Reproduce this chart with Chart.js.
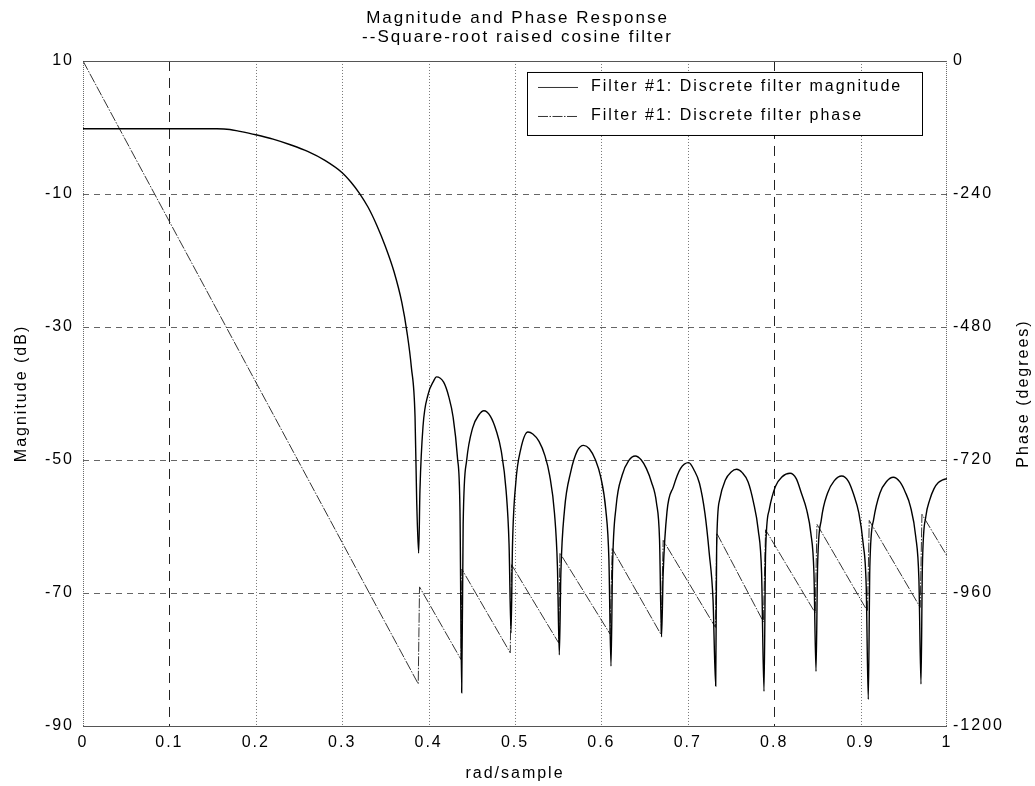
<!DOCTYPE html>
<html><head><meta charset="utf-8">
<script src="https://cdn.jsdelivr.net/npm/chart.js@4.4.0/dist/chart.umd.min.js"></script>
<style>html,body{margin:0;padding:0;background:#fff;}#wrap{width:1035px;height:786px;position:relative;}</style>
</head><body><div id="wrap"><canvas id="c"></canvas></div>
<script>
// ---- text ----
const titleLines = ['Magnitude and Phase Response', '--Square-root raised cosine filter'];
const xAxisLabel = 'rad/sample';
const leftAxisLabel = 'Magnitude (dB)';
const rightAxisLabel = 'Phase (degrees)';
const seriesNames = ['Filter #1: Discrete filter magnitude', 'Filter #1: Discrete filter phase'];

// ---- axis ranges / ticks ----
const xRange = [0, 1], xStep = 0.1;
const magRange = [-90, 10], magStep = 20;
const phaseRange = [-1200, 0], phaseStep = 240;

// ---- magnitude (dB) ----
const magX = [0, 0.05, 0.10, 0.155, 0.17, 0.18, 0.20, 0.22, 0.24, 0.26, 0.28, 0.30, 0.31, 0.32, 0.33, 0.34, 0.35, 0.36, 0.369, 0.375, 0.380, 0.3843, 0.3862, 0.3885,
  0.3900, 0.3935, 0.3995, 0.4059, 0.4090, 0.4174, 0.4234, 0.4283, 0.4333, 0.4363, 0.4383,
  0.4400, 0.4440, 0.4509, 0.4583, 0.4640, 0.4714, 0.4783, 0.4840, 0.4897, 0.4931, 0.4954,
  0.4971, 0.5010, 0.5066, 0.5150, 0.5206, 0.5278, 0.5345, 0.5401, 0.5457, 0.5491, 0.5513,
  0.5531, 0.5573, 0.5645, 0.5722, 0.5794, 0.5860, 0.5932, 0.5991, 0.6051, 0.6087, 0.6111,
  0.6129, 0.6170, 0.6240, 0.6316, 0.6392, 0.6462, 0.6521, 0.6579, 0.6638, 0.6673, 0.6696,
  0.6715, 0.6759, 0.6834, 0.6915, 0.7010, 0.7072, 0.7135, 0.7198, 0.7248, 0.7292, 0.7323,
  0.7334, 0.7368, 0.7435, 0.7502, 0.7565, 0.7630, 0.7698, 0.7759, 0.7815, 0.7854, 0.7882,
  0.7900, 0.7942, 0.8014, 0.8093, 0.8183, 0.8255, 0.8315, 0.8376, 0.8424, 0.8460, 0.8484,
  0.8502, 0.8545, 0.8617, 0.8696, 0.8781, 0.8859, 0.8920, 0.8980, 0.9029, 0.9065, 0.9089,
  0.9107, 0.9150, 0.9223, 0.9303, 0.9378, 0.9455, 0.9516, 0.9577, 0.9638, 0.9675, 0.9699,
  0.9715, 0.9755, 0.9800, 0.9850, 0.9900, 0.9950, 1.0000];
const magY = [-0.2, -0.2, -0.2, -0.2, -0.3, -0.55, -1.1, -1.75, -2.6, -3.6, -4.95, -6.8, -8.2, -9.9, -12.0, -14.7, -17.9, -21.7, -26.3, -30.8, -36, -43.5, -56, -64,
  -54.5, -45, -40.1, -38.1, -37.5, -38.3, -40.5, -43.5, -49.5, -57.5, -85,
  -59.6, -50.1, -45.2, -43.2, -42.6, -43.4, -45.6, -48.6, -54.6, -62.6, -76,
  -62.8, -53.3, -48.4, -45.8, -46.1, -47.2, -49.3, -52.3, -58, -66, -79.3,
  -67, -57.5, -51.8, -48.6, -47.8, -48.3, -50, -52.5, -57.5, -65, -81,
  -66, -57, -52.3, -50.1, -49.4, -50, -51.3, -53.3, -56.5, -62, -76.6,
  -67, -57.8, -54, -51.3, -50.4, -51.5, -53.5, -58, -64, -71, -84,
  -63, -56, -53, -51.8, -51.4, -51.9, -53.3, -56.3, -60.5, -67, -84.8,
  -64, -57.5, -54, -52.5, -52, -52.8, -55, -57.5, -61, -67, -81.8,
  -66, -59, -55, -53.1, -52.4, -53.2, -55.2, -58, -62.5, -69, -86,
  -66, -59, -55, -53.2, -52.6, -53.3, -54.8, -57, -61.5, -68, -83.7,
  -66, -58.5, -56, -54.3, -53.4, -53, -52.8];

// ---- phase (degrees) ----
const phaseX = [0, 0.3880, 0.3895, 0.4375, 0.4385, 0.4945, 0.4960, 0.5505, 0.5520, 0.6100, 0.6125, 0.6690, 0.6715,
  0.7320, 0.7335, 0.7875, 0.7900, 0.8475, 0.8495, 0.9080, 0.9100, 0.9690, 0.9710, 1.0];
const phaseY = [0, -1124, -949, -1080, -917, -1068, -909, -1050, -888, -1034, -880, -1035, -865,
  -1022, -852, -1012, -846, -996, -836, -993, -829, -986, -818, -893];

const FONT = "'Liberation Sans', Arial, Helvetica, sans-serif";
Chart.defaults.font.family = FONT;
Chart.defaults.font.size = 16;
Chart.defaults.color = '#000';

const toPts = (xs, ys) => xs.map((x, i) => ({x: x, y: ys[i]}));

const framePlugin = {
  id: 'frame',
  beforeDraw(chart) {
    chart.ctx.letterSpacing = '2px';
  },
  beforeDatasetsDraw(chart) {
    const {ctx, chartArea: a, scales} = chart;
    ctx.save();
    ctx.lineWidth = 1;
    scales.x.ticks.forEach(t => {
      if (t.value <= xRange[0] || t.value >= xRange[1]) return;
      const px = Math.round(scales.x.getPixelForValue(t.value)) + 0.5;
      const strong = Math.abs(t.value - 0.1) < 1e-6 || Math.abs(t.value - 0.8) < 1e-6;
      ctx.strokeStyle = strong ? '#222' : '#777';
      ctx.setLineDash(strong ? [10, 7] : [1, 2]);
      ctx.beginPath(); ctx.moveTo(px, a.top); ctx.lineTo(px, a.bottom); ctx.stroke();
    });
    scales.y.ticks.forEach(t => {
      if (t.value <= magRange[0] || t.value >= magRange[1]) return;
      const py = Math.round(scales.y.getPixelForValue(t.value)) + 0.5;
      ctx.strokeStyle = '#666';
      ctx.setLineDash([6, 5]);
      ctx.beginPath(); ctx.moveTo(a.left, py); ctx.lineTo(a.right, py); ctx.stroke();
    });
    ctx.setLineDash([]);
    ctx.strokeStyle = '#555';
    ctx.beginPath();
    ctx.moveTo(a.left, Math.round(a.top) + 0.5); ctx.lineTo(a.right, Math.round(a.top) + 0.5);
    ctx.moveTo(a.left, Math.round(a.bottom) + 0.5); ctx.lineTo(a.right, Math.round(a.bottom) + 0.5);
    ctx.stroke();
    ctx.setLineDash([1, 1]);
    ctx.strokeStyle = '#666';
    ctx.beginPath();
    ctx.moveTo(Math.round(a.left) + 0.5, a.top); ctx.lineTo(Math.round(a.left) + 0.5, a.bottom);
    ctx.moveTo(Math.round(a.right) - 0.5, a.top); ctx.lineTo(Math.round(a.right) - 0.5, a.bottom);
    ctx.stroke();
    ctx.restore();
  },
  afterDraw(chart) {
    const {ctx, chartArea: a} = chart;
    ctx.save();
    ctx.letterSpacing = '2px';
    ctx.font = '16px ' + FONT;
    ctx.fillStyle = '#000';
    ctx.textAlign = 'center';
    ctx.textBaseline = 'middle';
    ctx.translate(1024, (a.top + a.bottom) / 2);
    ctx.rotate(-Math.PI / 2);
    ctx.fillText(chart.options.scales.y1.title.text, 0, 0);
    ctx.restore();

    ctx.save();
    ctx.letterSpacing = '2px';
    const L = a.right - 420, R = a.right - 25, T = a.top + 11, B = a.top + 74;
    ctx.fillStyle = '#fff';
    ctx.fillRect(L, T, R - L, B - T);
    ctx.strokeStyle = '#000';
    ctx.lineWidth = 1;
    ctx.strokeRect(L + 0.5, T + 0.5, R - L, B - T);
    ctx.font = '16px ' + FONT;
    ctx.textAlign = 'left';
    ctx.textBaseline = 'middle';
    chart.data.datasets.forEach((ds, i) => {
      const y = T + 15 + i * 29;
      ctx.strokeStyle = '#333';
      ctx.lineWidth = 1;
      ctx.setLineDash(ds.borderDash || []);
      ctx.beginPath(); ctx.moveTo(L + 11, y + 0.5); ctx.lineTo(L + 51, y + 0.5); ctx.stroke();
      ctx.setLineDash([]);
      ctx.fillStyle = '#000';
      ctx.fillText(ds.label, L + 64, y);
    });
    ctx.restore();
  }
};

new Chart(document.getElementById('c'), {
  type: 'line',
  data: {
    datasets: [
      {label: seriesNames[0], data: toPts(magX, magY), yAxisID: 'y', borderColor: '#000', borderWidth: 1.4,
       pointRadius: 0, cubicInterpolationMode: 'monotone', fill: false},
      {label: seriesNames[1], data: toPts(phaseX, phaseY), yAxisID: 'y1', borderColor: '#333', borderWidth: 1,
       pointRadius: 0, tension: 0, borderDash: [10, 1.5, 1.5, 1.5], fill: false}
    ]
  },
  options: {
    responsive: true,
    maintainAspectRatio: false,
    animation: false,
    events: [],
    layout: {padding: 0},
    plugins: {
      legend: {display: false},
      tooltip: {enabled: false},
      title: {
        display: true, text: titleLines, color: '#000',
        font: {size: 17, weight: 'normal', lineHeight: 1.12},
        padding: {top: 8.5, bottom: 14.4}
      }
    },
    scales: {
      x: {
        type: 'linear', position: 'bottom', min: xRange[0], max: xRange[1],
        ticks: {stepSize: xStep, padding: 7, font: {size: 16}, color: '#000',
                callback: v => String(Math.round(v * 10) / 10)},
        grid: {display: false, drawTicks: false}, border: {display: false},
        title: {display: true, text: xAxisLabel, font: {size: 16}, padding: {top: 0, bottom: 3}, color: '#000'},
        afterFit: s => { s.height = 60; }
      },
      y: {
        type: 'linear', position: 'left', min: magRange[0], max: magRange[1],
        ticks: {stepSize: magStep, padding: 9, font: {size: 16}, color: '#000', callback: v => String(v)},
        grid: {display: false, drawTicks: false}, border: {display: false},
        title: {display: true, text: leftAxisLabel, font: {size: 16}, padding: {top: 12, bottom: 0}, color: '#000'},
        afterFit: s => { s.width = 83; }
      },
      y1: {
        type: 'linear', position: 'right', min: phaseRange[0], max: phaseRange[1],
        ticks: {stepSize: phaseStep, padding: 6, font: {size: 16}, color: '#000', callback: v => String(v)},
        grid: {display: false, drawTicks: false}, border: {display: false},
        title: {display: false, text: rightAxisLabel},
        afterFit: s => { s.width = 88; }
      }
    }
  },
  plugins: [framePlugin]
});
</script>
</body></html>
